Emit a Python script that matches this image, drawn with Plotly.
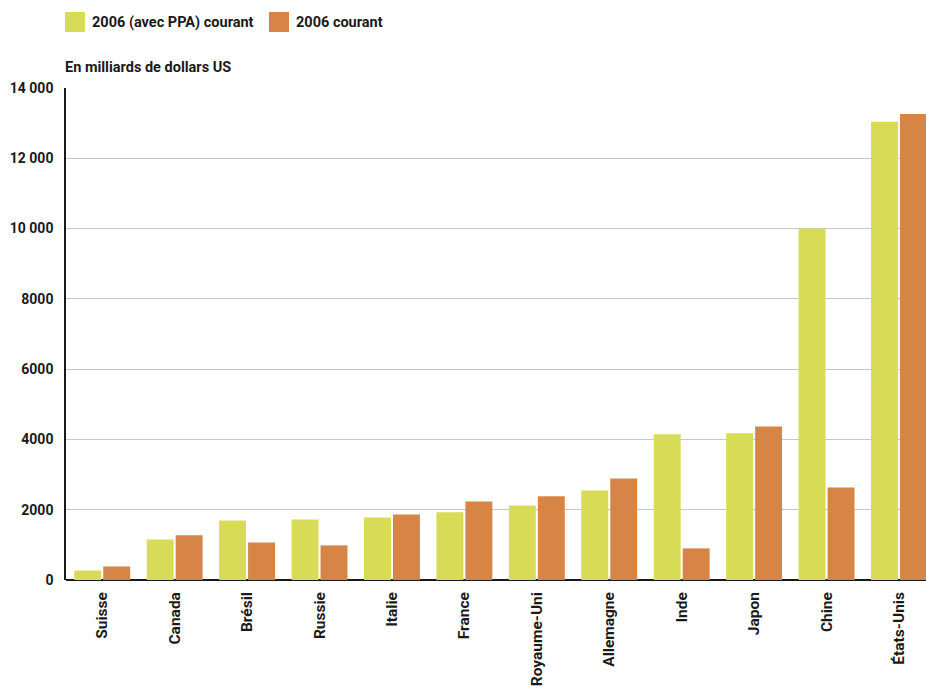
import plotly.graph_objects as go

categories = ["Suisse", "Canada", "Brésil", "Russie", "Italie", "France",
              "Royaume-Uni", "Allemagne", "Inde", "Japon", "Chine", "États-Unis"]
ppa_2006 = [270, 1155, 1695, 1725, 1780, 1925, 2120, 2550, 4145, 4175, 10000, 13040]
courant_2006 = [385, 1270, 1070, 985, 1865, 2235, 2380, 2890, 900, 4370, 2635, 13260]
series_names = ["2006 (avec PPA) courant", "2006 courant"]
y_tickvals = [0, 2000, 4000, 6000, 8000, 10000, 12000, 14000]
y_ticktext = ["0", "2000", "4000", "6000", "8000", "10 000", "12 000", "14 000"]
unit_label = "En milliards de dollars US"

GREEN = "#d8db55"
ORANGE = "#d68546"
FONT = "Roboto"

fig = go.Figure()
fig.add_trace(go.Bar(x=categories, y=ppa_2006, name=series_names[0],
                     marker=dict(color=GREEN, line=dict(width=0))))
fig.add_trace(go.Bar(x=categories, y=courant_2006, name=series_names[1],
                     marker=dict(color=ORANGE, line=dict(width=0))))

fig.update_layout(
    width=926, height=686,
    margin=dict(l=66, r=0, t=88, b=106),
    paper_bgcolor="white", plot_bgcolor="white",
    barmode="group", bargap=0.2, bargroupgap=0.07,
    showlegend=False,
    font=dict(family=FONT, size=13, color="#1a1a1a"),
    xaxis=dict(
        type="category", range=[-0.5, 11.373],
        tickangle=-90, showgrid=False, ticks="",
        showline=False, zeroline=False, ticklabelstandoff=8,
        tickfont=dict(family=FONT, size=15.5, color="#1a1a1a", weight="bold"),
    ),
    yaxis=dict(
        range=[0, 14000], tickvals=y_tickvals, ticktext=y_ticktext,
        showgrid=True, gridcolor="#c8c8c8", gridwidth=1,
        zeroline=True, zerolinecolor="#1a1a1a", zerolinewidth=2,
        showline=True, linecolor="#1a1a1a", linewidth=1.5,
        ticks="", ticklabelstandoff=8,
        tickfont=dict(family=FONT, size=14, color="#1a1a1a", weight="bold"),
    ),
)

# manual legend
legend_items = [(series_names[0], GREEN, 65), (series_names[1], ORANGE, 269)]
for name, col, x0 in legend_items:
    fig.add_shape(type="rect", xref="paper", yref="paper",
                  x0=(x0 - 66) / 860, x1=(x0 + 20 - 66) / 860,
                  y0=(686 - 106 - 32) / 492 + 0, y1=(686 - 106 - 12) / 492,
                  fillcolor=col, line=dict(width=0))
    fig.add_annotation(text=f"<b>{name}</b>", xref="paper", yref="paper",
                       x=(x0 + 25 - 66) / 860, y=(686 - 106 - 22) / 492,
                       xanchor="left", yanchor="middle", showarrow=False,
                       font=dict(family=FONT, size=14.5, color="#1a1a1a"))

fig.add_annotation(text=f"<b>{unit_label}</b>", xref="paper", yref="paper",
                   x=(63 - 66) / 860, y=(686 - 106 - 68) / 492,
                   xanchor="left", yanchor="middle", showarrow=False,
                   font=dict(family=FONT, size=14.5, color="#1a1a1a"))

fig.write_html("out.html")
